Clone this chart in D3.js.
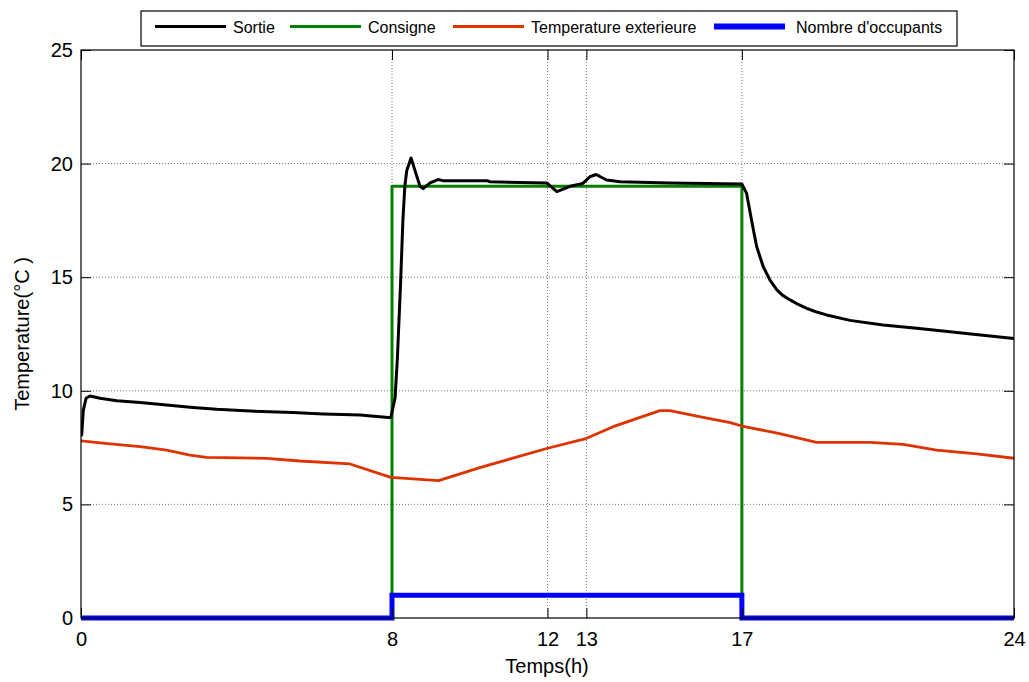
<!DOCTYPE html>
<html>
<head>
<meta charset="utf-8">
<script src="https://cdn.jsdelivr.net/npm/d3@7"></script>
<style>
  body { margin: 0; background: #fff; }
  svg { display: block; font-family: Arial, "Liberation Sans", sans-serif; }
</style>
</head>
<body>
<svg id="chart" width="1029" height="682"></svg>
<script>
// ---- data ----
const xTicks = [0, 8, 12, 13, 17, 24];
const yTicks = [0, 5, 10, 15, 20, 25];
const xGrid = [8, 12, 13, 17];
const yGrid = [5, 10, 15, 20];

const seriesNames = ["Sortie", "Consigne", "Temperature exterieure", "Nombre d'occupants"];

const sortieT = [0, 0.02, 0.06, 0.13, 0.23, 0.49, 0.92, 1.52, 2.2, 2.88, 3.49, 4.35, 5.45, 6.23, 7.18, 7.9, 7.97,
  8.03, 8.08, 8.14, 8.22, 8.28, 8.33, 8.38, 8.49, 8.59, 8.72, 8.8, 8.98, 9.18, 9.31, 10.44, 10.52, 11.98,
  12.24, 12.58, 12.91, 13.09, 13.25, 13.52, 13.87, 15.15, 17.0, 17.12, 17.25, 17.38, 17.55, 17.72, 17.9,
  18.05, 18.24, 18.45, 18.67, 18.9, 19.18, 19.78, 20.63, 21.5, 22.35, 23.2, 24];
const sortieV = [8.0, 8.1, 9.15, 9.67, 9.77, 9.67, 9.56, 9.48, 9.37, 9.27, 9.19, 9.11, 9.04, 8.98, 8.93, 8.82, 8.82,
  9.3, 9.7, 11.5, 14.7, 17.5, 19.0, 19.7, 20.25, 19.7, 19.0, 18.9, 19.15, 19.3, 19.25, 19.25, 19.2, 19.15,
  18.77, 19.0, 19.13, 19.42, 19.52, 19.28, 19.2, 19.15, 19.1, 18.7, 17.5, 16.35, 15.46, 14.88, 14.44,
  14.2, 14.0, 13.8, 13.63, 13.48, 13.34, 13.1, 12.9, 12.75, 12.6, 12.45, 12.3];

const consigneT = [0, 8, 8, 17, 17, 24];
const consigneV = [0, 0, 19, 19, 0, 0];

const extT = [0, 0.75, 1.52, 2.2, 2.8, 3.23, 4.78, 5.63, 6.92, 7.97, 8.73, 9.2, 10.26, 11.98, 12.96, 13.69,
  14.89, 15.15, 15.84, 16.7, 17.0, 17.72, 18.0, 18.92, 20.3, 21.15, 22.01, 23.04, 24];
const extV = [7.8, 7.66, 7.54, 7.39, 7.17, 7.07, 7.03, 6.91, 6.78, 6.19, 6.1, 6.05, 6.62, 7.46, 7.88, 8.42,
  9.13, 9.13, 8.89, 8.6, 8.45, 8.2, 8.1, 7.73, 7.73, 7.64, 7.39, 7.22, 7.03];

const occT = [0, 8, 8, 17, 17, 24];
const occV = [0, 0, 1, 1, 0, 0];

// ---- chart ----
const svg = d3.select("#chart");
const L = 81, R = 1014, T = 50, B = 618;
const x = d3.scaleLinear().domain([0, 24]).range([L, R]);
const y = d3.scaleLinear().domain([0, 25]).range([B, T]);

svg.append("rect").attr("width", 1029).attr("height", 682).attr("fill", "#fff");

svg.append("defs").append("clipPath").attr("id", "clip")
  .append("rect").attr("x", L).attr("y", T).attr("width", R - L).attr("height", B - T);

// grid
const grid = svg.append("g").attr("stroke", "#555").attr("stroke-width", 0.8).attr("stroke-dasharray", "1,2");
grid.selectAll(".gx").data(xGrid).join("line")
  .attr("x1", d => x(d)).attr("x2", d => x(d)).attr("y1", T).attr("y2", B);
grid.selectAll(".gy").data(yGrid).join("line")
  .attr("y1", d => y(d)).attr("y2", d => y(d)).attr("x1", L).attr("x2", R);

// series
const colors = ["#000000", "#008000", "#dd3300", "#0000ff"];
const widths = [3, 3, 2.8, 5];
const line = d3.line().x(d => x(d[0])).y(d => y(d[1]));
const plot = svg.append("g").attr("clip-path", "url(#clip)");
const data = [
  d3.zip(sortieT, sortieV),
  d3.zip(consigneT, consigneV),
  d3.zip(extT, extV),
  d3.zip(occT, occV)
];
const order = [1, 2, 0];
order.forEach(i => {
  plot.append("path").datum(data[i])
    .attr("fill", "none").attr("stroke", colors[i]).attr("stroke-width", widths[i])
    .attr("stroke-linejoin", "round")
    .attr("d", line);
});
svg.append("path").datum(data[3])
  .attr("fill", "none").attr("stroke", colors[3]).attr("stroke-width", widths[3])
  .attr("d", line);

// axes
const fs = "20px";
const gL = svg.append("g").attr("transform", `translate(${L},0)`)
  .call(d3.axisLeft(y).tickValues(yTicks).tickSize(-10).tickPadding(8).tickFormat(d3.format("d")));
const gR = svg.append("g").attr("transform", `translate(${R},0)`)
  .call(d3.axisRight(y).tickValues(yTicks).tickSize(-10).tickFormat(""));
const gB = svg.append("g").attr("transform", `translate(0,${B})`)
  .call(d3.axisBottom(x).tickValues(xTicks).tickSize(-10).tickPadding(14).tickFormat(d3.format("d")));
const gT = svg.append("g").attr("transform", `translate(0,${T})`)
  .call(d3.axisTop(x).tickValues(xTicks).tickSize(-10).tickFormat(""));
[gL, gR, gB, gT].forEach(g => {
  g.select(".domain").remove();
  g.selectAll(".tick line").attr("stroke", "#000").attr("stroke-width", 1);
  g.selectAll("text").attr("font-size", fs).attr("fill", "#000").attr("font-family", "Arial, 'Liberation Sans', sans-serif");
});

// box
svg.append("rect").attr("x", L).attr("y", T).attr("width", R - L).attr("height", B - T)
  .attr("fill", "none").attr("stroke", "#000").attr("stroke-width", 1.2);

// axis labels
svg.append("text").attr("x", 547).attr("y", 673).attr("text-anchor", "middle")
  .attr("font-size", fs).text("Temps(h)");
svg.append("text").attr("transform", "translate(29,334) rotate(-90)").attr("text-anchor", "middle")
  .attr("font-size", fs).text("Temperature(°C )");

// legend
const lg = svg.append("g");
lg.append("rect").attr("x", 141).attr("y", 11).attr("width", 816).attr("height", 35)
  .attr("fill", "#fff").attr("stroke", "#000").attr("stroke-width", 1.2);
const lineX = [155, 290, 453, 714];
seriesNames.forEach((n, i) => {
  lg.append("line").attr("x1", lineX[i]).attr("x2", lineX[i] + 71).attr("y1", 26.5).attr("y2", 26.5)
    .attr("stroke", colors[i]).attr("stroke-width", i === 3 ? 6 : 3);
  lg.append("text").attr("x", lineX[i] + 78 + (i === 3 ? 4 : 0)).attr("y", 33)
    .attr("font-size", "16px").text(n);
});
</script>
</body>
</html>
